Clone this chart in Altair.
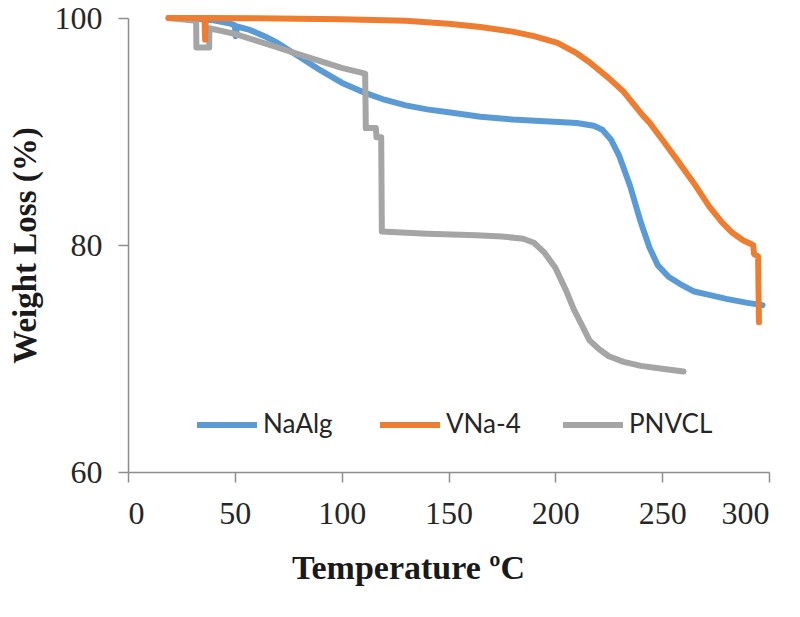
import altair as alt
import pandas as pd

series_names = ["NaAlg", "VNa-4", "PNVCL"]
series_colors = ["#5B9BD5", "#ED7D31", "#A5A5A5"]

x_ticks = [0, 50, 100, 150, 200, 250, 300]
y_ticks = [60, 80, 100]

naalg_t = [19, 30, 40, 48, 50, 50.4, 51, 57, 65, 70, 80, 90, 100, 111, 120, 130, 140, 150,
           165, 180, 195, 210, 218, 222, 226, 230, 235, 240, 244, 248, 253, 258, 265, 272,
           280, 290, 297]
naalg_w = [100.0, 99.95, 99.8, 99.5, 99.35, 98.4, 99.25, 98.95, 98.3, 97.8, 96.6, 95.4, 94.3,
           93.4, 92.8, 92.3, 91.95, 91.7, 91.3, 91.05, 90.9, 90.75, 90.5, 90.15, 89.3, 87.8,
           85.2, 82.0, 79.8, 78.2, 77.2, 76.6, 75.9, 75.6, 75.25, 74.9, 74.7]

vna_t = [19, 35.8, 36.1, 36.4, 60, 100, 130, 150, 165, 180, 190, 201, 210, 216, 225, 232,
         241, 244, 250, 257, 265, 272, 278, 283, 288, 292.6, 293, 294.9, 295.3]
vna_w = [100.0, 100.0, 98.1, 100.0, 99.98, 99.9, 99.75, 99.5, 99.2, 98.8, 98.4, 97.8, 96.9,
         96.1, 94.7, 93.5, 91.4, 90.8, 89.3, 87.5, 85.4, 83.4, 82.0, 81.05, 80.4, 80.0, 79.2,
         79.0, 73.2]

pnvcl_t = [19, 31.9, 32.0, 38.0, 38.1, 50, 60, 70, 80, 90, 100, 111, 111.3, 116, 116.3, 118.5,
           118.8, 140, 163, 175, 185, 190, 195, 200, 205, 208.7, 212, 216, 220, 225, 232, 240,
           250, 260]
pnvcl_w = [100.0, 99.76, 97.4, 97.4, 99.1, 98.6, 98.0, 97.4, 96.8, 96.2, 95.6, 95.1, 90.3, 90.3,
           89.5, 89.5, 81.2, 81.0, 80.85, 80.75, 80.55, 80.2, 79.3, 78.0, 76.0, 74.3, 73.1,
           71.6, 70.9, 70.2, 69.7, 69.35, 69.1, 68.85]

rows = []
for name, ts, ws in [("NaAlg", naalg_t, naalg_w), ("VNa-4", vna_t, vna_w), ("PNVCL", pnvcl_t, pnvcl_w)]:
    for i, (t, w) in enumerate(zip(ts, ws)):
        rows.append({"series": name, "T": t, "W": w, "idx": i})
df = pd.DataFrame(rows)

color = alt.Color(
    "series:N",
    scale=alt.Scale(domain=series_names, range=series_colors),
    legend=alt.Legend(
        title=None,
        orient="none",
        legendX=66,
        legendY=374,
        direction="horizontal",
        symbolType="stroke",
        symbolSize=3600,
        symbolStrokeWidth=6,
        labelFont="Lato",
        labelFontSize=26,
        labelColor="#262626",
        labelOffset=3,
        columnPadding=21,
        gridAlign="all",
        padding=0,
    ),
)

x = alt.X(
    "T:Q",
    scale=alt.Scale(domain=[0, 300], nice=False),
    axis=alt.Axis(
        values=x_ticks,
        title="Temperature ºC",
        titleX=280,
        titleY=96,
        titleBaseline="middle",
        titleAlign="center",
        titleFontSize=34,
        labelPadding=16,
    ),
)
y = alt.Y(
    "W:Q",
    scale=alt.Scale(domain=[60, 100], nice=False, zero=False),
    axis=alt.Axis(
        values=y_ticks,
        title="Weight Loss (%)",
        titleX=-103,
        titleY=227,
        titleBaseline="middle",
        titleAlign="center",
        titleAngle=270,
        titleFontSize=33,
        labelPadding=16,
    ),
)

def layer_for(name):
    return (
        alt.Chart(df)
        .transform_filter(alt.datum.series == name)
        .mark_line(strokeWidth=6, strokeCap="round", strokeJoin="round")
        .encode(x=x, y=y, color=color, order=alt.Order("idx:Q"))
    )

chart = (
    alt.layer(layer_for("NaAlg"), layer_for("PNVCL"), layer_for("VNa-4"))
    .properties(
        width=641,
        height=454,
        autosize=alt.AutoSizeParams(type="none"),
        padding={"left": 120, "top": 10, "right": 23, "bottom": 125},
    )
    .configure_view(stroke=None)
    .configure_axis(
        grid=False,
        domainColor="#8C8C8C",
        domainWidth=1.5,
        tickColor="#8C8C8C",
        tickWidth=1.5,
        tickSize=10,
        labelFont="Liberation Serif",
        labelFontSize=32,
        labelColor="#262626",
        titleFont="Liberation Serif",
        titleFontWeight="bold",
        titleColor="#1a1a1a",
    )
)

chart.save("out.html", embed_options={"renderer": "svg", "actions": False})
